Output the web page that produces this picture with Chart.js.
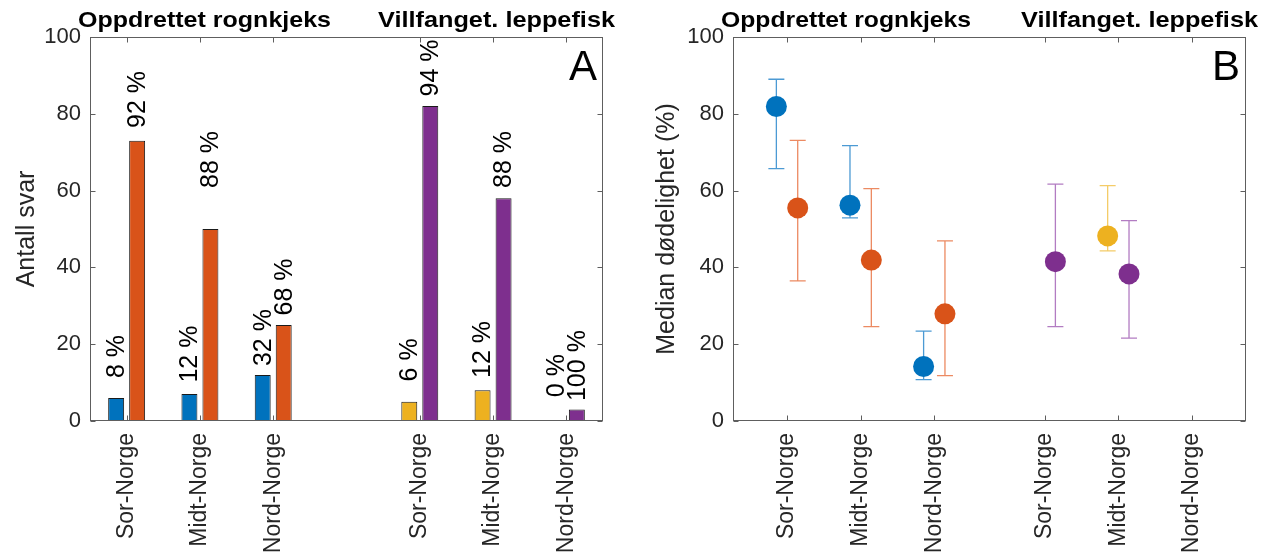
<!DOCTYPE html>
<html><head><meta charset="utf-8">
<script src="https://cdn.jsdelivr.net/npm/chart.js@4/dist/chart.umd.min.js"></script>
<style>
html,body{margin:0;padding:0;background:#fff;width:1273px;height:554px;overflow:hidden}
.panel{position:absolute;top:0;height:554px}
#pa{left:0;width:636px}
#pb{left:636px;width:637px}
</style></head><body>
<div class="panel" id="pa"><canvas id="ca" width="636" height="554"></canvas></div>
<div class="panel" id="pb"><canvas id="cb" width="637" height="554"></canvas></div>
<script>
// ---------------- data ----------------
const regions = ['Sor-Norge', 'Midt-Norge', 'Nord-Norge'];
const groupTitles = ['Oppdrettet rognkjeks', 'Villfanget. leppefisk'];
const yTickValues = [0, 20, 40, 60, 80, 100];

// Panel A: Antall svar
const countFarmedLeft  = [6, 7, 12];    // blue
const countFarmedRight = [73, 50, 25];  // orange
const countWildLeft    = [5, 8, 0];     // yellow
const countWildRight   = [82, 58, 3];   // purple
const pctFarmedLeft  = [8, 12, 32];
const pctFarmedRight = [92, 88, 68];
const pctWildLeft    = [6, 12, 0];
const pctWildRight   = [94, 88, 100];
// where each percentage text starts (data units, as placed in the original)
const pctAnchorLeft  = [11.2, 10.0, 14.3, 10.3, 11.2, 6.2];
const pctAnchorRight = [76.3, 60.7, 27.5, 84.5, 60.7, 5.2];

// Panel B: Median dodelighet (%), with lower / upper error limits
const medFarmedLeft  = [81.9, 56.2, 14.2];
const lowFarmedLeft  = [65.7, 52.9, 10.8];
const highFarmedLeft = [89.0, 71.7, 23.4];
const medFarmedRight  = [55.5, 41.9, 27.9];
const lowFarmedRight  = [36.5, 24.6, 11.8];
const highFarmedRight = [73.1, 60.5, 46.9];
const medWildLeft  = [null, 48.2, null];
const lowWildLeft  = [null, 44.3, null];
const highWildLeft = [null, 61.3, null];
const medWildRight  = [41.5, 38.3, null];
const lowWildRight  = [24.6, 21.6, null];
const highWildRight = [61.7, 52.2, null];
const posFarmed = [1, 2, 3];
const posWild = [4.5, 5.5, 6.5];

// ---------------- styles ----------------
const C = {blue:'#0072BD', orange:'#D95319', yellow:'#EDB120', purple:'#7E2F8E'};
const CE = {blue:'#4c9ad4', orange:'#ec8a62', yellow:'#f4cc68', purple:'#b27cc2'};
const FF = "'Liberation Sans', Arial, Helvetica, sans-serif";
const TXT = '#262626';
Chart.defaults.font.family = FF;
Chart.defaults.animation = false;

const framePlugin = {
  id: 'frame',
  afterDraw(chart, args, o) {
    const {ctx, chartArea: a} = chart;
    const xs = chart.scales.x, ys = chart.scales.y;
    ctx.save();
    ctx.strokeStyle = '#5e5e5e'; ctx.lineWidth = 1;
    const L = Math.round(a.left) + 0.5, R = Math.round(a.right) - 0.5;
    const T = Math.round(a.top) + 0.5, B = Math.round(a.bottom) - 0.5;
    ctx.strokeRect(L, T, R - L, B - T);
    ctx.beginPath();
    for (const v of o.xTicks) {
      const x = Math.round(xs.getPixelForValue(v)) + 0.5;
      ctx.moveTo(x, B); ctx.lineTo(x, B - 5);
      ctx.moveTo(x, T); ctx.lineTo(x, T + 5);
    }
    for (const v of yTickValues) {
      const y = Math.round(ys.getPixelForValue(v)) + 0.5;
      ctx.moveTo(L, y); ctx.lineTo(L + 5, y);
      ctx.moveTo(R, y); ctx.lineTo(R - 5, y);
    }
    ctx.stroke();
    // group titles (the original's title face is wider than Arial bold)
    ctx.fillStyle = '#000';
    ctx.font = 'bold 22px ' + FF;
    ctx.textBaseline = 'alphabetic';
    ctx.textAlign = 'left';
    for (const t of o.titles) {
      const w = ctx.measureText(t.text).width;
      ctx.save();
      ctx.translate(t.x, 27);
      ctx.scale(t.w / w, 1);
      ctx.fillText(t.text, 0, 0);
      ctx.restore();
    }
    // panel letter
    ctx.font = '42px ' + FF;
    ctx.textAlign = 'right';
    ctx.fillText(o.letter, a.right - 6, 80);
    // y axis title
    ctx.fillStyle = TXT;
    ctx.font = '25px ' + FF;
    ctx.translate(o.yTitleX, (a.top + a.bottom) / 2);
    ctx.rotate(-Math.PI / 2);
    ctx.textAlign = 'center'; ctx.textBaseline = 'middle';
    ctx.fillText(o.yTitle, 0, 0);
    ctx.restore();
  }
};

const barLabelPlugin = {
  id: 'barLabels',
  afterDatasetsDraw(chart) {
    const {ctx} = chart; const ys = chart.scales.y;
    ctx.save();
    ctx.fillStyle = '#000';
    ctx.font = '25px ' + FF;
    chart.data.datasets.forEach((ds, di) => {
      const meta = chart.getDatasetMeta(di);
      ds.pctText.forEach((txt, i) => {
        if (txt === null) return;
        const el = meta.data[i];
        const y = ys.getPixelForValue(ds.pctAnchor[i]);
        ctx.save();
        ctx.translate(el.x, y);
        ctx.rotate(-Math.PI / 2);
        ctx.textAlign = 'left'; ctx.textBaseline = 'middle';
        ctx.fillText(txt + ' %', 0, 1);
        ctx.restore();
      });
    });
    ctx.restore();
  }
};

const errorBarPlugin = {
  id: 'errBars',
  beforeDatasetsDraw(chart) {
    const {ctx} = chart; const xs = chart.scales.x, ys = chart.scales.y;
    ctx.save();
    ctx.lineWidth = 1.3;
    chart.data.datasets.forEach(ds => {
      ctx.strokeStyle = ds.errColor;
      ds.data.forEach((p, i) => {
        if (p.y === null || ds.low[i] === null) return;
        const x = xs.getPixelForValue(p.x);
        const y1 = ys.getPixelForValue(ds.low[i]), y2 = ys.getPixelForValue(ds.high[i]);
        ctx.beginPath();
        ctx.moveTo(x, y1); ctx.lineTo(x, y2);
        ctx.moveTo(x - 8, y1); ctx.lineTo(x + 8, y1);
        ctx.moveTo(x - 8, y2); ctx.lineTo(x + 8, y2);
        ctx.stroke();
      });
    });
    ctx.restore();
  }
};

const makeY = (w) => ({
  min: 0, max: 100,
  grid: {display: false, drawTicks: false}, border: {display: false},
  ticks: {stepSize: 20, color: TXT, font: {size: 22}, padding: 9},
  afterFit: s => { s.width = w; }
});

// ---------------- Panel A ----------------
const labelsA = [...regions, '', ...regions];
const leftVals = [...countFarmedLeft, null, ...countWildLeft];
const rightVals = [...countFarmedRight, null, ...countWildRight];
const leftCols = [C.blue, C.blue, C.blue, C.blue, C.yellow, C.yellow, C.yellow];
const rightCols = [C.orange, C.orange, C.orange, C.orange, C.purple, C.purple, C.purple];
const withGap = (a, b) => [...a, null, ...b];

new Chart(document.getElementById('ca'), {
  type: 'bar',
  data: {
    labels: labelsA,
    datasets: [
      {data: leftVals, backgroundColor: leftCols, borderColor: '#1a1a1a', borderWidth: 1, borderSkipped: false,
       pctText: withGap(pctFarmedLeft, pctWildLeft),
       pctAnchor: withGap(pctAnchorLeft.slice(0, 3), pctAnchorLeft.slice(3))},
      {data: rightVals, backgroundColor: rightCols, borderColor: '#1a1a1a', borderWidth: 1, borderSkipped: false,
       pctText: withGap(pctFarmedRight, pctWildRight),
       pctAnchor: withGap(pctAnchorRight.slice(0, 3), pctAnchorRight.slice(3))}
    ]
  },
  options: {
    responsive: false, events: [],
    categoryPercentage: 0.573, barPercentage: 0.76,
    layout: {padding: {top: 37, right: 33, left: 0, bottom: 0}},
    plugins: {legend: {display: false}, tooltip: {enabled: false},
      frame: {xTicks: [0, 1, 2, 4, 5, 6], letter: 'A', yTitle: 'Antall svar', yTitleX: 27,
        titles: [{text: groupTitles[0], x: 78, w: 253}, {text: groupTitles[1], x: 378, w: 237}]}},
    scales: {
      x: {type: 'category', offset: true, grid: {display: false, drawTicks: false}, border: {display: false},
          ticks: {minRotation: 90, maxRotation: 90, autoSkip: false, color: TXT, font: {size: 23}, padding: 12},
          afterFit: s => { s.height = 133; }},
      y: makeY(90)
    }
  },
  plugins: [barLabelPlugin, framePlugin]
});

// ---------------- Panel B ----------------
const pts = (pos, vals, off) => pos.map((p, i) => ({x: p + off, y: vals[i]}));
const xTicksB = [...posFarmed, ...posWild];
const xLabelsB = [...regions, ...regions];
const mk = (pos, med, low, high, off, col) => ({
  data: pts(pos, med, off), low, high,
  backgroundColor: C[col], pointBackgroundColor: C[col], pointBorderWidth: 0,
  pointRadius: 10.5, pointHoverRadius: 10.5, errColor: CE[col]
});

new Chart(document.getElementById('cb'), {
  type: 'scatter',
  data: {
    datasets: [
      mk(posFarmed, medFarmedLeft, lowFarmedLeft, highFarmedLeft, -0.145, 'blue'),
      mk(posFarmed, medFarmedRight, lowFarmedRight, highFarmedRight, 0.145, 'orange'),
      mk(posWild, medWildLeft, lowWildLeft, highWildLeft, -0.145, 'yellow'),
      mk(posWild, medWildRight, lowWildRight, highWildRight, 0.145, 'purple')
    ]
  },
  options: {
    responsive: false, events: [],
    layout: {padding: {top: 37, right: 27, left: 0, bottom: 0}},
    plugins: {legend: {display: false}, tooltip: {enabled: false},
      frame: {xTicks: xTicksB, letter: 'B', yTitle: 'Median dødelighet (%)', yTitleX: 31,
        titles: [{text: groupTitles[0], x: 85, w: 250}, {text: groupTitles[1], x: 385, w: 237}]}},
    scales: {
      x: {type: 'linear', min: 0.266, max: 7.234,
          grid: {display: false, drawTicks: false}, border: {display: false},
          afterBuildTicks: s => { s.ticks = xTicksB.map(v => ({value: v})); },
          ticks: {minRotation: 90, maxRotation: 90, autoSkip: false, color: TXT, font: {size: 23}, padding: 12,
                  callback: v => xLabelsB[xTicksB.indexOf(v)]},
          afterFit: s => { s.height = 133; }},
      y: makeY(97)
    }
  },
  plugins: [errorBarPlugin, framePlugin]
});
</script>
</body></html>
